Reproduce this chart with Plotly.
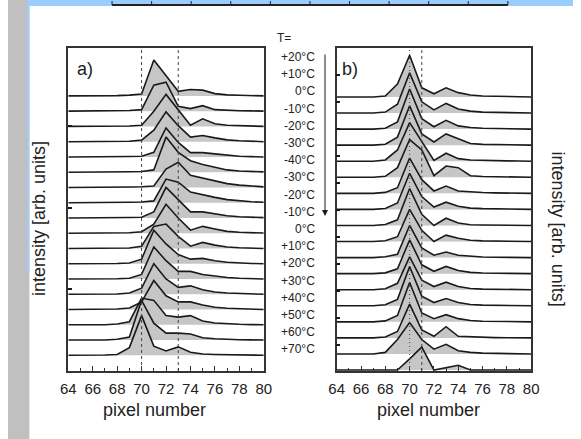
import plotly.graph_objects as go

W, H = 581, 439

# pixel positions on the detector (x axis)
pixels = list(range(64, 81))

temps = ["+20°C", "+10°C", "0°C", "-10°C", "-20°C", "-30°C", "-40°C", "-30°C", "-20°C",
         "-10°C", "0°C", "+10°C", "+20°C", "+30°C", "+40°C", "+50°C", "+60°C", "+70°C"]

# a) spectra, one row per temperature step (top -> bottom), intensity in offset units
spectra_a = [
    [0, 0, 0, 0, 0.02, 0.05, 0.12, 2.35, 1.30, 0.30, 0.42, 0.38, 0.15, 0.07, 0.04, 0.02, 0.00],
    [0, 0, 0, 0, 0.02, 0.04, 0.10, 1.70, 1.90, 0.32, 0.17, 0.36, 0.10, 0.05, 0.03, 0.02, 0.00],
    [0, 0, 0, 0, 0.02, 0.03, 0.08, 1.00, 2.10, 1.10, 0.08, 0.50, 0.18, 0.08, 0.05, 0.02, 0.00],
    [0, 0, 0, 0, 0.02, 0.03, 0.10, 0.75, 1.95, 1.05, 0.30, 0.40, 0.25, 0.12, 0.06, 0.03, 0.00],
    [0, 0, 0, 0, 0.02, 0.03, 0.05, 0.30, 1.90, 0.95, 0.28, 0.28, 0.20, 0.10, 0.05, 0.02, 0.00],
    [0, 0, 0, 0, 0.02, 0.03, 0.05, 0.15, 2.30, 1.30, 0.75, 0.50, 0.32, 0.15, 0.08, 0.04, 0.02],
    [0, 0, 0, 0, 0.02, 0.03, 0.05, 0.10, 1.20, 1.65, 0.80, 0.60, 0.42, 0.25, 0.15, 0.08, 0.04],
    [0, 0, 0, 0, 0.02, 0.03, 0.05, 0.12, 1.55, 1.35, 0.70, 0.50, 0.35, 0.20, 0.12, 0.06, 0.03],
    [0, 0, 0, 0, 0.02, 0.03, 0.05, 0.40, 2.00, 1.20, 0.40, 0.40, 0.25, 0.15, 0.08, 0.04, 0.02],
    [0, 0, 0, 0, 0.02, 0.03, 0.10, 0.60, 1.90, 1.00, 0.20, 0.45, 0.28, 0.12, 0.06, 0.03, 0.01],
    [0, 0, 0, 0, 0.02, 0.03, 0.15, 1.45, 1.60, 0.80, 0.15, 0.40, 0.22, 0.10, 0.05, 0.02, 0.00],
    [0, 0, 0, 0, 0.02, 0.05, 0.30, 2.20, 1.30, 0.60, 0.30, 0.35, 0.20, 0.10, 0.05, 0.02, 0.00],
    [0, 0, 0, 0, 0.02, 0.05, 0.30, 2.10, 1.20, 0.50, 0.50, 0.30, 0.20, 0.10, 0.05, 0.02, 0.00],
    [0, 0, 0, 0, 0.02, 0.08, 0.40, 2.00, 1.00, 0.45, 0.55, 0.30, 0.15, 0.08, 0.04, 0.02, 0.00],
    [0, 0, 0, 0, 0.03, 0.10, 0.50, 1.90, 0.90, 0.50, 0.50, 0.30, 0.15, 0.08, 0.04, 0.02, 0.00],
    [0, 0, 0, 0, 0.05, 0.20, 1.75, 1.60, 0.60, 0.50, 0.60, 0.25, 0.12, 0.06, 0.03, 0.01, 0.00],
    [0, 0, 0, 0, 0.05, 0.20, 2.60, 1.10, 0.45, 0.45, 0.40, 0.15, 0.08, 0.04, 0.02, 0.01, 0.00],
    [0, 0, 0, 0.02, 0.05, 0.50, 2.60, 0.60, 0.28, 0.55, 0.20, 0.08, 0.05, 0.03, 0.02, 0.01, 0.00],
]

# b) spectra
spectra_b = [
    [0, 0, 0, 0, 0.06, 0.80, 2.60, 0.57, 0.20, 0.57, 0.27, 0.12, 0.06, 0.04, 0.03, 0.02, 0.00],
    [0, 0, 0, 0, 0.06, 0.55, 2.50, 0.70, 0.20, 0.60, 0.25, 0.12, 0.06, 0.04, 0.03, 0.02, 0.00],
    [0, 0, 0, 0, 0.05, 0.45, 2.50, 0.65, 0.15, 0.55, 0.20, 0.10, 0.05, 0.03, 0.02, 0.01, 0.00],
    [0, 0, 0, 0, 0.06, 0.50, 2.45, 0.70, 0.20, 0.70, 0.40, 0.10, 0.05, 0.03, 0.02, 0.01, 0.00],
    [0, 0, 0, 0, 0.08, 0.70, 2.40, 1.20, 0.05, 0.50, 0.16, 0.08, 0.05, 0.03, 0.02, 0.01, 0.00],
    [0, 0, 0, 0, 0.06, 0.60, 2.35, 1.70, 0.10, 0.70, 0.60, 0.10, 0.05, 0.03, 0.02, 0.01, 0.00],
    [0, 0, 0, 0, 0.06, 0.35, 2.20, 0.85, 0.15, 0.45, 0.15, 0.08, 0.05, 0.03, 0.02, 0.01, 0.00],
    [0, 0, 0, 0, 0.06, 0.40, 2.25, 0.80, 0.15, 0.45, 0.20, 0.08, 0.05, 0.03, 0.02, 0.01, 0.00],
    [0, 0, 0, 0, 0.06, 0.35, 2.30, 0.70, 0.00, 0.45, 0.15, 0.05, 0.03, 0.02, 0.01, 0.00, 0.00],
    [0, 0, 0, 0, 0.05, 0.30, 2.00, 0.70, 0.00, 0.40, 0.20, 0.08, 0.04, 0.02, 0.01, 0.00, 0.00],
    [0, 0, 0, 0, 0.05, 0.20, 2.00, 0.60, 0.15, 0.35, 0.15, 0.08, 0.04, 0.02, 0.01, 0.00, 0.00],
    [0, 0, 0, 0, 0.05, 0.30, 2.10, 0.55, 0.15, 0.45, 0.20, 0.08, 0.04, 0.02, 0.01, 0.00, 0.00],
    [0, 0, 0, 0, 0.06, 0.40, 2.05, 0.60, 0.20, 0.47, 0.20, 0.08, 0.04, 0.02, 0.01, 0.00, 0.00],
    [0, 0, 0, 0, 0.06, 0.40, 2.45, 0.60, 0.20, 0.45, 0.20, 0.08, 0.04, 0.02, 0.01, 0.00, 0.00],
    [0, 0, 0, 0, 0.06, 0.40, 2.45, 0.55, 0.20, 0.45, 0.20, 0.08, 0.04, 0.02, 0.01, 0.00, 0.00],
    [0, 0, 0, 0, 0.06, 0.40, 2.10, 0.50, 0.10, 0.70, 0.10, 0.06, 0.04, 0.02, 0.01, 0.00, 0.00],
    [0, 0, 0, 0, 0.10, 0.90, 1.95, 0.90, 0.30, 0.60, 0.20, 0.10, 0.05, 0.03, 0.02, 0.01, 0.00],
    [0, 0, 0, 0, 0.00, 0.00, 0.70, 1.43, 0.00, 0.15, 0.30, 0.00, 0.00, 0.00, 0.00, 0.00, 0.00],
]

# dotted reference lines (pixel number)
markers_a = [70, 73]
markers_b = [70, 71]

FONT = "Arial, 'Liberation Sans', sans-serif"
INK = "#1a1a1a"
FRAME = "#333333"
FILL = "#c6c6c6"

BOX_TOP, BOX_BOTTOM = 48, 371


def px(x):
    return x / W


def py(y):
    return 1 - y / H


fig = go.Figure()


def add_panel(spectra, xa, ya):
    n = len(spectra)
    # grey areas first so every line stays on top
    for i, row in enumerate(spectra):
        off = n - 1 - i
        fig.add_trace(go.Scatter(x=pixels, y=[off] * len(pixels), mode="lines",
                                 line=dict(width=0), xaxis=xa, yaxis=ya,
                                 hoverinfo="skip", showlegend=False))
        fig.add_trace(go.Scatter(x=pixels, y=[off + v for v in row], mode="lines",
                                 line=dict(width=0), fill="tonexty", fillcolor=FILL,
                                 xaxis=xa, yaxis=ya, hoverinfo="skip", showlegend=False))
    for i, row in enumerate(spectra):
        off = n - 1 - i
        fig.add_trace(go.Scatter(x=pixels, y=[off + v for v in row], mode="lines",
                                 line=dict(color=INK, width=1.6), name=temps[i],
                                 xaxis=xa, yaxis=ya, showlegend=False))


add_panel(spectra_a, "x", "y")
add_panel(spectra_b, "x2", "y2")

xcommon = dict(range=[64, 80], tick0=64, dtick=2, ticks="inside", ticklen=5, tickwidth=1,
               tickcolor=FRAME, minor=dict(ticks="inside", ticklen=3, dtick=1, tick0=64,
                                           tickcolor=FRAME, showgrid=False),
               showline=True, linecolor=FRAME, linewidth=1.5, mirror=True,
               showgrid=False, zeroline=False, tickfont=dict(family=FONT, size=15, color="#222"),
               ticklabelstandoff=3)
ycommon = dict(showticklabels=False, ticks="inside", ticklen=4, tickwidth=1.5, tickcolor=INK,
               showline=True, linecolor=FRAME, linewidth=1.5, mirror=True,
               showgrid=False, zeroline=False)

fig.update_layout(
    width=W, height=H,
    margin=dict(l=0, r=0, t=0, b=0),
    paper_bgcolor="white", plot_bgcolor="white",
    showlegend=False,
    xaxis=dict(domain=[px(62), px(263)], anchor="y", **xcommon),
    yaxis=dict(domain=[py(BOX_BOTTOM), py(BOX_TOP)], anchor="x", range=[-1.03, 20.14],
               tick0=-1.03, dtick=5.35, **ycommon),
    xaxis2=dict(domain=[px(338), px(538)], anchor="y2", **xcommon),
    yaxis2=dict(domain=[py(BOX_BOTTOM), py(BOX_TOP)], anchor="x2", range=[-0.06, 20.05],
                tick0=1.59, dtick=1.68, **ycommon),
)

shapes = []
# slide background pieces
shapes.append(dict(type="rect", xref="paper", yref="paper", x0=0, x1=px(22), y0=0, y1=1,
                   fillcolor="#c0c0c0", line=dict(width=0), layer="below"))
shapes.append(dict(type="rect", xref="paper", yref="paper", x0=px(20), x1=1, y0=py(6), y1=1,
                   fillcolor="#99ccff", line=dict(width=0), layer="below"))
shapes.append(dict(type="rect", xref="paper", yref="paper", x0=px(20), x1=px(22), y0=py(272), y1=1,
                   fillcolor="#99ccff", line=dict(width=0), layer="below"))
shapes.append(dict(type="line", xref="paper", yref="paper", x0=px(107), x1=px(514), y0=py(5), y1=py(5),
                   line=dict(color="#222", width=2)))
for k in range(11):
    xt = 107 + k * 40.7
    shapes.append(dict(type="line", xref="paper", yref="paper", x0=px(xt), x1=px(xt),
                       y0=py(5), y1=py(1), line=dict(color="#222", width=1)))

for xa, marks in (("x", markers_a), ("x2", markers_b)):
    ya = "y" if xa == "x" else "y2"
    for m in marks:
        dash = "1px,3px" if (xa == "x2" and m == 70) else "dot"
        shapes.append(dict(type="line", xref=xa, yref=ya + " domain", x0=m, x1=m, y0=0, y1=1,
                           line=dict(color="#444", width=1, dash=dash)))
fig.update_layout(shapes=shapes)

ann = []
ann.append(dict(x=px(79), y=py(69), text="a)", font=dict(size=18)))
ann.append(dict(x=px(352), y=py(69), text="b)", font=dict(size=18)))
ann.append(dict(x=px(284), y=py(38), text="T=", font=dict(size=12)))
for i, t in enumerate(temps):
    ann.append(dict(x=px(318), y=py(57 + i * 17.2), text=t, xanchor="right", font=dict(size=12)))
ann.append(dict(x=px(32), y=py(219), text="intensity [arb. units]", textangle=-90, font=dict(size=18)))
ann.append(dict(x=px(566), y=py(229), text="intensity [arb. units]", textangle=90, font=dict(size=18)))
ann.append(dict(x=px(151), y=py(410), text="pixel number", font=dict(size=18)))
ann.append(dict(x=px(432), y=py(410), text="pixel number", font=dict(size=18)))
for a in ann:
    a.setdefault("xanchor", "center")
    a.update(xref="paper", yref="paper", showarrow=False, yanchor="middle")
    a["font"].update(family=FONT, color="#222")
# temperature arrow
ann.append(dict(x=px(326), y=py(216), xref="paper", yref="paper", ax=0, ay=-163, text="",
                showarrow=True, arrowhead=2, arrowsize=1.2, arrowwidth=1, arrowcolor=INK))
fig.update_layout(annotations=ann)

fig.write_html("out.html", config={"displayModeBar": False},
               post_script="document.body.style.margin='0';")
